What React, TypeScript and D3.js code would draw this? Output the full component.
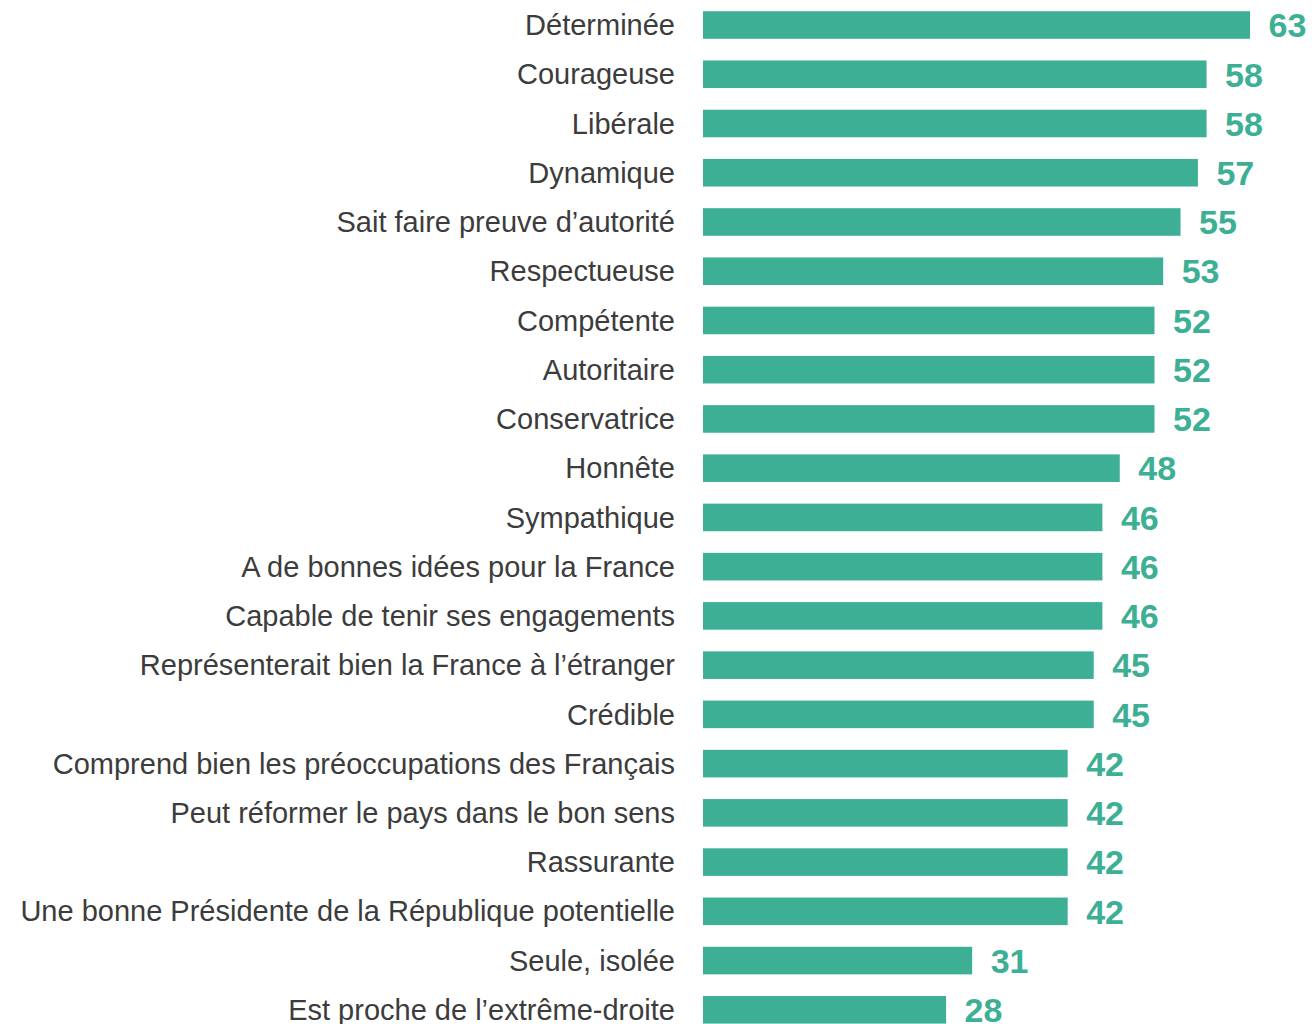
import React from "react";
import * as d3 from "d3";

const categories = [
  "Déterminée",
  "Courageuse",
  "Libérale",
  "Dynamique",
  "Sait faire preuve d’autorité",
  "Respectueuse",
  "Compétente",
  "Autoritaire",
  "Conservatrice",
  "Honnête",
  "Sympathique",
  "A de bonnes idées pour la France",
  "Capable de tenir ses engagements",
  "Représenterait bien la France à l’étranger",
  "Crédible",
  "Comprend bien les préoccupations des Français",
  "Peut réformer le pays dans le bon sens",
  "Rassurante",
  "Une bonne Présidente de la République potentielle",
  "Seule, isolée",
  "Est proche de l’extrême-droite",
];

const values = [63, 58, 58, 57, 55, 53, 52, 52, 52, 48, 46, 46, 46, 45, 45, 42, 42, 42, 42, 31, 28];

const W = 1312;
const H = 1024;
const x0 = 703;
const BAR = "#3daf94";

export default function App() {
  const x = d3.scaleLinear().domain([0, 63]).range([x0, 1250]);
  const y = d3
    .scaleBand<string>()
    .domain(categories)
    .range([0.4, 0.4 + 49.24 * categories.length])
    .paddingInner(0.44)
    .paddingOuter(0.22);
  const bw = y.bandwidth();
  return (
    <svg
      width={W}
      height={H}
      style={{ position: "absolute", left: 0, top: 0, background: "#fff" }}
      fontFamily="'Liberation Sans', Arial, sans-serif"
    >
      {categories.map((c, i) => {
        const yc = (y(c) as number) + bw / 2;
        return (
          <g key={c}>
            <rect x={x(0)} y={y(c)} width={x(values[i]) - x(0)} height={bw} fill={BAR} />
            <text
              x={675}
              y={yc}
              dy="0.35em"
              textAnchor="end"
              fontSize={29}
              fill="#3c3c3c"
            >
              {c}
            </text>
            <text
              x={x(values[i]) + 18.5}
              y={yc}
              dy="0.36em"
              fontSize={34}
              fontWeight="bold"
              fill={BAR}
            >
              {values[i]}
            </text>
          </g>
        );
      })}
    </svg>
  );
}
